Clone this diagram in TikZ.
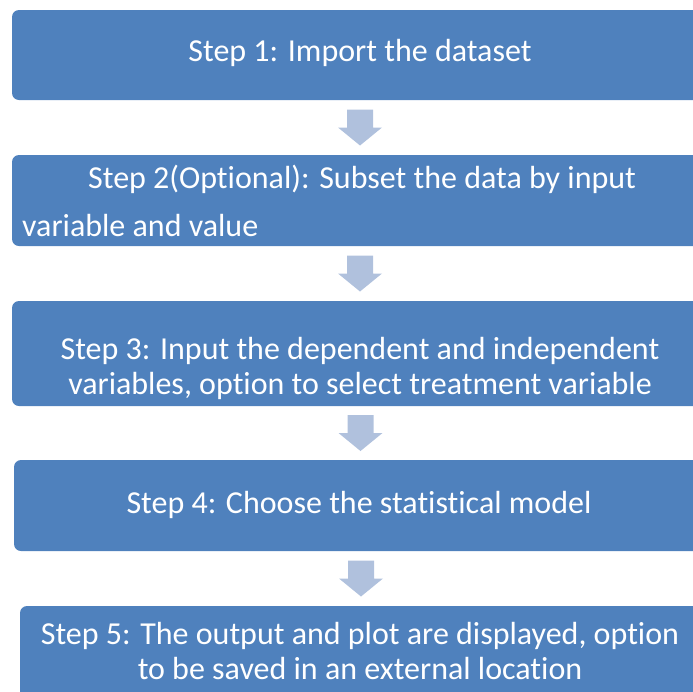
\documentclass[tikz,border=0pt]{standalone}
\usepackage{fontspec}
\setmainfont{Carlito}[Ligatures=NoCommon]
\usetikzlibrary{calc}
\definecolor{boxblue}{HTML}{4F81BD}
\definecolor{arrowblue}{HTML}{B0C1DD}
\newcommand\blockarrowat[1]{%
  \fill[arr] ($(#1)+(-13pt,18pt)$) -- ($(#1)+(13pt,18pt)$) -- ($(#1)+(13pt,0pt)$) -- ($(#1)+(22pt,0pt)$) -- ($(#1)+(0pt,-18pt)$) -- ($(#1)+(-22pt,0pt)$) -- ($(#1)+(-13pt,0pt)$) -- cycle;}
\begin{document}
\begin{tikzpicture}[x=1pt,y=-1pt,
  box/.style={fill=boxblue, rounded corners=7pt, inner sep=0pt, draw=none},
  txt/.style={text=white, font=\fontsize{32}{35}\selectfont, inner sep=0pt},
  arr/.style={fill=arrowblue, draw=none}]
\useasboundingbox (0,0) rectangle (693,691);
\clip (0,0) rectangle (693,691);
\node[box, minimum width=696pt, minimum height=90pt] (b1) at (360,55) {};
\node[box, minimum width=696pt, minimum height=91pt] (b2) at (360,200.5) {};
\node[box, minimum width=696pt, minimum height=105pt] (b3) at (360,353.5) {};
\node[box, minimum width=694pt, minimum height=91pt] (b4) at (361,505.5) {};
\node[box, minimum width=688pt, minimum height=100pt] (b5) at (364,656) {};
\node[txt] (t1) at (360,53) {Step 1: Import the dataset};
\node[txt, anchor=west, align=left] (t2) at (22,201) {\hspace*{66pt}Step 2(Optional): Subset the data by input\\[13pt]variable and value};
\node[txt, align=center] (t3) at (360,368) {Step 3: Input the dependent and independent\\variables, option to select treatment variable};
\node[txt] (t4) at (359,505) {Step 4: Choose the statistical model};
\node[txt, align=center] (t5) at (360,651) {Step 5: The output and plot are displayed, option\\to be saved in an external location};
\path (b1.south) -- (b2.north) coordinate[midway] (m1);
\path (b2.south) -- (b3.north) coordinate[midway] (m2);
\path (b3.south) -- (b4.north) coordinate[midway] (m3);
\path (b4.south) -- (b5.north -| b4.south) coordinate[midway] (m4);
\blockarrowat{m1}
\blockarrowat{m2}
\blockarrowat{m3}
\blockarrowat{m4}
\end{tikzpicture}
\end{document}
